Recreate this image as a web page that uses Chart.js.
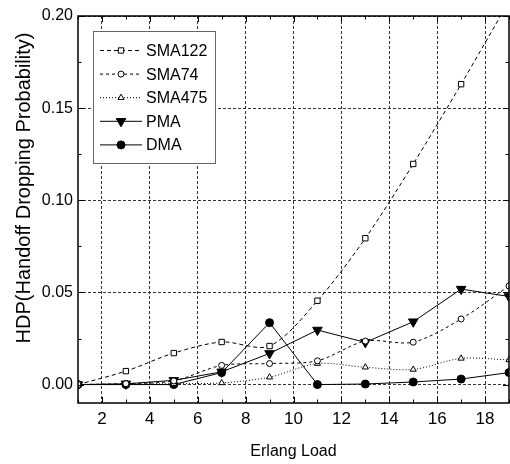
<!DOCTYPE html>
<html>
<head>
<meta charset="utf-8">
<script src="https://cdn.jsdelivr.net/npm/chart.js@4/dist/chart.umd.min.js"></script>
<style>
  html, body { margin: 0; padding: 0; background: #fff; }
  #wrap { width: 510px; height: 464px; }
</style>
</head>
<body>
<div id="wrap"><canvas id="hdpChart" width="510" height="464"></canvas></div>
<script>
// Erlang load (x) and handoff dropping probability per scheme
const loads = [1, 3, 5, 7, 9, 11, 13, 15, 17, 19];
const sma122 = [0, 0.0073, 0.0171, 0.0231, 0.0209, 0.0455, 0.0794, 0.1197, 0.163, 0.208];
const sma74 = [0, 0.0005, 0.002, 0.0104, 0.0114, 0.0129, 0.0236, 0.023, 0.0356, 0.0535];
const sma475 = [0, 0.0002, 0.0005, 0.0009, 0.004, 0.0114, 0.0094, 0.0082, 0.0142, 0.0134];
const pma = [0, 0.0004, 0.0023, 0.0069, 0.0169, 0.0296, 0.0229, 0.0341, 0.0518, 0.0478];
const dma = [0, 0, 0, 0.0065, 0.0336, 0, 0.0003, 0.0014, 0.003, 0.0065];

const xTicks = [2, 4, 6, 8, 10, 12, 14, 16, 18];
const yTicks = [0, 0.05, 0.10, 0.15, 0.20];

const FONT = "'Liberation Sans', Arial, sans-serif";

function pts(ys) {
  return ys.map((y, i) => ({ x: loads[i], y: y }));
}

// frame, inward ticks, axis titles
const framePlugin = {
  id: "frame",
  afterDraw(chart) {
    const ctx = chart.ctx;
    const a = chart.chartArea;
    const xs = chart.scales.x;
    const ys = chart.scales.y;
    ctx.save();
    ctx.strokeStyle = "#000";
    ctx.lineWidth = 1.5;
    ctx.setLineDash([]);
    ctx.strokeRect(a.left, a.top, a.right - a.left, a.bottom - a.top);

    ctx.lineWidth = 1;
    ctx.beginPath();
    for (let v = Math.ceil(xs.min); v <= xs.max; v++) {
      const px = Math.round(xs.getPixelForValue(v)) + 0.5;
      const len = v % 2 === 0 ? 6 : 3.5;
      ctx.moveTo(px, a.bottom); ctx.lineTo(px, a.bottom - len);
      ctx.moveTo(px, a.top); ctx.lineTo(px, a.top + len);
    }
    for (let k = 0; k <= 8; k++) {
      const py = Math.round(ys.getPixelForValue(k * 0.025)) + 0.5;
      const len = k % 2 === 0 ? 6 : 3.5;
      ctx.moveTo(a.left, py); ctx.lineTo(a.left + len, py);
      ctx.moveTo(a.right, py); ctx.lineTo(a.right - len, py);
    }
    ctx.stroke();

    ctx.fillStyle = "#000";
    ctx.textAlign = "center";
    ctx.textBaseline = "middle";
    ctx.font = "16px " + FONT;
    ctx.fillText("Erlang Load", (a.left + a.right) / 2, 452);
    ctx.translate(24, 188);
    ctx.rotate(-Math.PI / 2);
    ctx.font = "20px " + FONT;
    ctx.fillText("HDP(Handoff Dropping Probability)", 0, 0);
    ctx.restore();
  }
};

// legend box inside the plot, drawn from the dataset styles
const legendPlugin = {
  id: "innerLegend",
  afterDatasetsDraw(chart) {
    const ctx = chart.ctx;
    const box = { x: 93, y: 31, w: 122, h: 132 };
    ctx.save();
    ctx.fillStyle = "#fff";
    ctx.fillRect(box.x, box.y, box.w, box.h);
    ctx.strokeStyle = "#666";
    ctx.lineWidth = 1;
    ctx.strokeRect(box.x + 0.5, box.y + 0.5, box.w, box.h);
    chart.data.datasets.forEach((ds, i) => {
      const cy = 50.5 + i * 23.6;
      ctx.strokeStyle = "#000";
      ctx.lineWidth = ds.borderWidth;
      ctx.setLineDash(ds.borderDash || []);
      ctx.beginPath();
      ctx.moveTo(100, cy);
      ctx.lineTo(142, cy);
      ctx.stroke();
      ctx.setLineDash([]);
      ctx.fillStyle = ds.pointBackgroundColor;
      ctx.lineWidth = 1;
      Chart.helpers.drawPoint(ctx, {
        pointStyle: ds.pointStyle,
        radius: ds.pointRadius,
        rotation: ds.pointRotation || 0,
        borderWidth: 1
      }, 121, cy);
      ctx.fillStyle = "#000";
      ctx.font = "16px " + FONT;
      ctx.textAlign = "left";
      ctx.textBaseline = "middle";
      ctx.fillText(ds.label, 146, cy + 1);
    });
    ctx.restore();
  }
};

function series(label, ys, dash, style, radius, fill, rot, tension) {
  return {
    label: label,
    data: pts(ys),
    borderColor: "#000",
    borderWidth: 1,
    borderDash: dash,
    pointStyle: style,
    pointRadius: radius,
    pointRotation: rot,
    pointBorderColor: "#000",
    pointBorderWidth: 1,
    pointBackgroundColor: fill,
    tension: tension,
    fill: false
  };
}

const datasets = [
  series("SMA122", sma122, [4, 3], "rect", 3.8, "#fff", 0, 0.3),
  series("SMA74", sma74, [3, 3], "circle", 3, "#fff", 0, 0.3),
  series("SMA475", sma475, [1, 2], "triangle", 3.5, "#fff", 0, 0.3),
  series("PMA", pma, [], "triangle", 5.5, "#000", 180, 0),
  series("DMA", dma, [], "circle", 4, "#000", 0, 0)
];

new Chart(document.getElementById("hdpChart").getContext("2d"), {
  type: "line",
  data: { datasets: datasets },
  options: {
    responsive: false,
    animation: false,
    layout: { autoPadding: false, padding: { top: 16, right: 1, left: 0, bottom: 0 } },
    plugins: {
      legend: { display: false },
      tooltip: { enabled: false }
    },
    scales: {
      x: {
        type: "linear",
        min: 1,
        max: 19,
        afterBuildTicks: (s) => { s.ticks = xTicks.map((v) => ({ value: v })); },
        afterFit: (s) => { s.height = 61; s.paddingLeft = 0; s.paddingRight = 0; },
        ticks: {
          color: "#000",
          font: { family: FONT, size: 17 },
          padding: 6,
          maxRotation: 0
        },
        grid: { color: "#333", lineWidth: 1, drawTicks: false },
        border: { display: false, dash: [3, 2] }
      },
      y: {
        type: "linear",
        min: -0.01,
        max: 0.20,
        afterBuildTicks: (s) => { s.ticks = yTicks.map((v) => ({ value: v })); },
        afterFit: (s) => { s.width = 78; s.paddingTop = 0; s.paddingBottom = 0; },
        ticks: {
          color: "#000",
          font: { family: FONT, size: 16 },
          padding: 5,
          callback: (v) => Number(v).toFixed(2)
        },
        grid: { color: "#333", lineWidth: 1, drawTicks: false },
        border: { display: false, dash: [3, 2] }
      }
    }
  },
  plugins: [legendPlugin, framePlugin]
});
</script>
</body>
</html>
